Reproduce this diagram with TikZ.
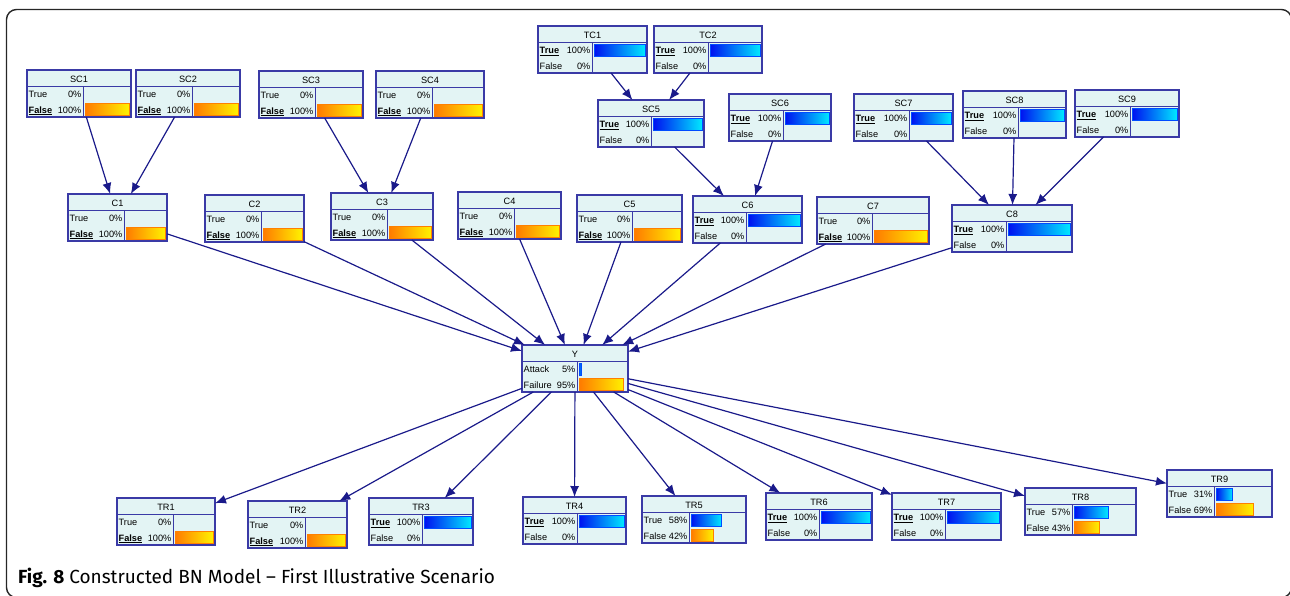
\documentclass[tikz,border=0pt]{standalone}
\usepackage{fontspec}
\setmainfont{Liberation Sans}
\newfontfamily\capfont{Fira Sans}
\usetikzlibrary{arrows.meta}
\definecolor{bnFill}{HTML}{E3F4F4}
\definecolor{bnBorder}{HTML}{3A3AA6}
\definecolor{bnArrow}{HTML}{1A1A8A}
\definecolor{barBlueL}{HTML}{0010F0}
\definecolor{barBlueR}{HTML}{00E8FF}
\definecolor{barOrL}{HTML}{FF7A00}
\definecolor{barOrR}{HTML}{FFF200}
\tikzstyle{bnbox}=[rectangle, draw=bnBorder, fill=bnFill, line width=1.1pt, minimum height=47pt, inner sep=0pt, outer sep=0pt]
\tikzstyle{bnline}=[draw=bnBorder, line width=0.9pt]
\tikzstyle{bntext}=[inner sep=0pt, font=\fontsize{9.2}{11}\selectfont]
\tikzstyle{bluebar}=[left color=barBlueL, right color=barBlueR, draw=blue!70!cyan, line width=0.8pt]
\tikzstyle{orangebar}=[left color=barOrL, right color=barOrR, draw=orange, line width=0.8pt]
\tikzstyle{edge}=[draw=bnArrow, line width=1.2pt, -{Latex[length=11pt, width=9pt]}]
\tikzstyle{frame}=[draw=black!85, line width=1.4pt, rounded corners=10pt]
\newcommand{\obs}[1]{\underline{\textbf{#1}}}
% box with title, header line and column line: name, left, top, width, divider, title
\newcommand{\bnnode}[6]{%
  \def\bnL{#2}\def\bnT{#3}\def\bnW{#4}\def\bnD{#5}%
  \node[bnbox, minimum width=#4pt] (#1) at (#2+#4/2, #3+23.5) {};
  \draw[bnline] (#2, #3+16) -- (#2+#4, #3+16);
  \draw[bnline] (#2+#5, #3+16) -- (#2+#5, #3+47);
  \node[bntext, anchor=base] at (#2+#4/2, #3+12) {#6};
}
% one state row: row centre, label, percent, bar style, fraction
\newcommand{\bnrow}[5]{%
  \node[bntext, anchor=base west] at (\bnL+1.5, \bnT+#1+3.5) {#2};
  \node[bntext, anchor=base east] at (\bnL+\bnD-1.5, \bnT+#1+3.5) {#3};
  \ifdim #5pt>0pt
    \path[#4] (\bnL+\bnD+2, \bnT+#1-6) rectangle (\bnL+\bnD+2+#5*\bnW-#5*\bnD-#5*4, \bnT+#1+6);
  \fi
}
\begin{document}
\begin{tikzpicture}[x=1pt, y=-1pt]
  \useasboundingbox (0,0) rectangle (1290,595);
  \draw[frame] (6.5,9.5) rectangle (1291.5,597.5);

  % top layer
  \bnnode{SC1}{27}{70}{104}{56}{SC1}
  \bnrow{24}{True}{0\%}{orangebar}{0}
  \bnrow{39.5}{\obs{False}}{100\%}{orangebar}{1}
  \bnnode{SC2}{136}{70}{104}{56}{SC2}
  \bnrow{24}{True}{0\%}{orangebar}{0}
  \bnrow{39.5}{\obs{False}}{100\%}{orangebar}{1}
  \bnnode{SC3}{259}{71}{104}{56}{SC3}
  \bnrow{24}{True}{0\%}{orangebar}{0}
  \bnrow{39.5}{\obs{False}}{100\%}{orangebar}{1}
  \bnnode{SC4}{376}{71}{108}{56}{SC4}
  \bnrow{24}{True}{0\%}{orangebar}{0}
  \bnrow{39.5}{\obs{False}}{100\%}{orangebar}{1}
  \bnnode{TC1}{538}{26}{109}{54}{TC1}
  \bnrow{24}{\obs{True}}{100\%}{bluebar}{1}
  \bnrow{39.5}{False}{0\%}{bluebar}{0}
  \bnnode{TC2}{654}{26}{108}{54}{TC2}
  \bnrow{24}{\obs{True}}{100\%}{bluebar}{1}
  \bnrow{39.5}{False}{0\%}{bluebar}{0}
  \bnnode{SC5}{598}{100}{106}{53}{SC5}
  \bnrow{24}{\obs{True}}{100\%}{bluebar}{1}
  \bnrow{39.5}{False}{0\%}{bluebar}{0}
  \bnnode{SC6}{729}{94}{102}{54}{SC6}
  \bnrow{24}{\obs{True}}{100\%}{bluebar}{1}
  \bnrow{39.5}{False}{0\%}{bluebar}{0}
  \bnnode{SC7}{854}{94}{99}{55}{SC7}
  \bnrow{24}{\obs{True}}{100\%}{bluebar}{1}
  \bnrow{39.5}{False}{0\%}{bluebar}{0}
  \bnnode{SC8}{963}{91}{103}{55}{SC8}
  \bnrow{24}{\obs{True}}{100\%}{bluebar}{1}
  \bnrow{39.5}{False}{0\%}{bluebar}{0}
  \bnnode{SC9}{1075}{90}{104}{55}{SC9}
  \bnrow{24}{\obs{True}}{100\%}{bluebar}{1}
  \bnrow{39.5}{False}{0\%}{bluebar}{0}

  % C layer
  \bnnode{C1}{68}{194}{99}{56}{C1}
  \bnrow{24}{True}{0\%}{orangebar}{0}
  \bnrow{39.5}{\obs{False}}{100\%}{orangebar}{1}
  \bnnode{C2}{205}{195}{99}{56}{C2}
  \bnrow{24}{True}{0\%}{orangebar}{0}
  \bnrow{39.5}{\obs{False}}{100\%}{orangebar}{1}
  \bnnode{C3}{331}{193}{102}{56}{C3}
  \bnrow{24}{True}{0\%}{orangebar}{0}
  \bnrow{39.5}{\obs{False}}{100\%}{orangebar}{1}
  \bnnode{C4}{458}{192}{103}{56}{C4}
  \bnrow{24}{True}{0\%}{orangebar}{0}
  \bnrow{39.5}{\obs{False}}{100\%}{orangebar}{1}
  \bnnode{C5}{577}{195}{105}{55}{C5}
  \bnrow{24}{True}{0\%}{orangebar}{0}
  \bnrow{39.5}{\obs{False}}{100\%}{orangebar}{1}
  \bnnode{C6}{693}{196}{109}{53}{C6}
  \bnrow{24}{\obs{True}}{100\%}{bluebar}{1}
  \bnrow{39.5}{False}{0\%}{bluebar}{0}
  \bnnode{C7}{817}{197}{112}{55}{C7}
  \bnrow{24}{True}{0\%}{orangebar}{0}
  \bnrow{39.5}{\obs{False}}{100\%}{orangebar}{1}
  \bnnode{C8}{952}{205}{120}{54}{C8}
  \bnrow{24}{\obs{True}}{100\%}{bluebar}{1}
  \bnrow{39.5}{False}{0\%}{bluebar}{0}

  % target
  \bnnode{Y}{522}{345}{106}{55}{Y}
  \bnrow{24}{Attack}{5\%}{bluebar}{0.05}
  \bnrow{39.5}{Failure}{95\%}{orangebar}{0.95}

  % TR layer
  \bnnode{TR1}{117}{498}{98}{56}{TR1}
  \bnrow{24}{True}{0\%}{orangebar}{0}
  \bnrow{39.5}{\obs{False}}{100\%}{orangebar}{1}
  \bnnode{TR2}{248}{501}{99}{57}{TR2}
  \bnrow{24}{True}{0\%}{orangebar}{0}
  \bnrow{39.5}{\obs{False}}{100\%}{orangebar}{1}
  \bnnode{TR3}{369}{498}{104}{53}{TR3}
  \bnrow{24}{\obs{True}}{100\%}{bluebar}{1}
  \bnrow{39.5}{False}{0\%}{bluebar}{0}
  \bnnode{TR4}{523}{497}{103}{54}{TR4}
  \bnrow{24}{\obs{True}}{100\%}{bluebar}{1}
  \bnrow{39.5}{False}{0\%}{bluebar}{0}
  \bnnode{TR5}{642}{496}{104}{47}{TR5}
  \bnrow{24}{True}{58\%}{bluebar}{0.58}
  \bnrow{39.5}{False}{42\%}{orangebar}{0.42}
  \bnnode{TR6}{766}{493}{106}{53}{TR6}
  \bnrow{24}{\obs{True}}{100\%}{bluebar}{1}
  \bnrow{39.5}{False}{0\%}{bluebar}{0}
  \bnnode{TR7}{892}{493}{109}{53}{TR7}
  \bnrow{24}{\obs{True}}{100\%}{bluebar}{1}
  \bnrow{39.5}{False}{0\%}{bluebar}{0}
  \bnnode{TR8}{1025}{488}{111}{47}{TR8}
  \bnrow{24}{True}{57\%}{bluebar}{0.57}
  \bnrow{39.5}{False}{43\%}{orangebar}{0.43}
  \bnnode{TR9}{1167}{470}{105}{47}{TR9}
  \bnrow{24}{True}{31\%}{bluebar}{0.31}
  \bnrow{39.5}{False}{69\%}{orangebar}{0.69}

  % edges
  \draw[edge] (SC1) to (C1);
  \draw[edge] (SC2) to (C1);
  \draw[edge] (SC3) to (C3);
  \draw[edge] (SC4) to (C3);
  \draw[edge] (TC1) to (SC5);
  \draw[edge] (TC2) to (SC5);
  \draw[edge] (SC5) to (C6);
  \draw[edge] (SC6) to (C6);
  \draw[edge] (SC7) to (C8);
  \draw[edge] (SC8) to (C8);
  \draw[edge] (SC9) to (C8);
  \foreach \c in {C1,C2,C3,C4,C5,C6,C7,C8}
    \draw[edge] (\c) to (Y);
  \foreach \t in {TR1,TR2,TR3,TR4,TR5,TR6,TR7,TR8,TR9}
    \draw[edge] (Y) to (\t);

  \node[anchor=base west, inner sep=0pt, font=\capfont\fontsize{19}{22}\selectfont] (caption) at (18,583)
    {\textbf{Fig. 8} Constructed BN Model – First Illustrative Scenario};
\end{tikzpicture}
\end{document}
